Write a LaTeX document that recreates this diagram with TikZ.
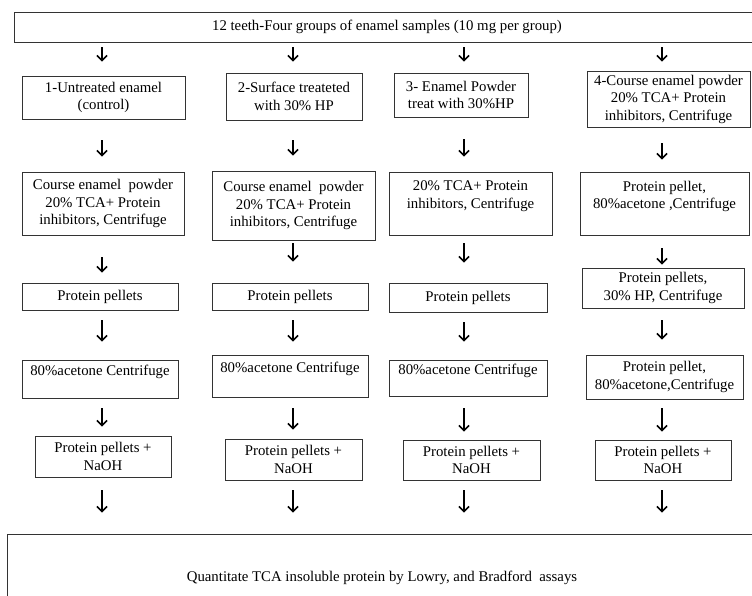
\documentclass[tikz,border=0pt]{standalone}
\usepackage{fontspec}
\setmainfont{Liberation Serif}
\usetikzlibrary{arrows.meta}

\begin{document}
\begin{tikzpicture}[x=1pt, y=-1pt,
  box/.style={draw=black!80, line width=0.9pt, align=center, inner sep=0pt,
    font=\fontsize{14.8}{17.5}\selectfont},
  flow/.style={line width=1.6pt, -{Straight Barb[length=5pt, width=10pt]}},
  gap/.style 2 args={shorten <=#1pt, shorten >=#2pt}]

  \useasboundingbox (0,0) rectangle (752,596);
  \fill[white] (0,0) rectangle (752,596);
  \clip (0,0) rectangle (752,596);

  % ====== samples ======
  \node[box, minimum width=746pt, minimum height=30pt] (top) at (387,27)
    {12 teeth-Four groups of enamel samples (10 mg per group)};

  % ====== column x of the arrows ======
  \coordinate (k1) at (102,0);
  \coordinate (k2) at (293,0);
  \coordinate (k3) at (464,0);
  \coordinate (k4) at (662,0);

  % ====== group 1 ======
  \node[box, minimum width=163pt, minimum height=43pt] (a1) at (103.5,97.5)
    {1-Untreated enamel\\(control)};
  \node[box, minimum width=162pt, minimum height=63pt] (b1) at (103,203.5)
    {Course enamel\ \ powder\\20\% TCA+ Protein\\inhibitors, Centrifuge};
  \node[box, minimum width=156pt, minimum height=27pt] (c1) at (100,296.5)
    {Protein pellets};
  \node[box, minimum width=156pt, minimum height=38pt] (d1) at (100,379)
    {80\%acetone Centrifuge\\\mbox{}};
  \node[box, minimum width=136pt, minimum height=41pt] (e1) at (103,456.5)
    {Protein pellets +\\NaOH};

  % ====== group 2 ======
  \node[box, minimum width=136pt, minimum height=47pt] (a2) at (294,96.5)
    {2-Surface treateted\\with 30\% HP};
  \node[box, minimum width=163pt, minimum height=69pt] (b2) at (293.5,205.5)
    {Course enamel\ \ powder\\20\% TCA+ Protein\\inhibitors, Centrifuge};
  \node[box, minimum width=156pt, minimum height=27pt] (c2) at (290,296.5)
    {Protein pellets};
  \node[box, minimum width=156pt, minimum height=42pt] (d2) at (290,376)
    {80\%acetone Centrifuge\\\mbox{}};
  \node[box, minimum width=137pt, minimum height=41pt] (e2) at (293.5,459.5)
    {Protein pellets +\\NaOH};

  % ====== group 3 ======
  \node[box, minimum width=134pt, minimum height=44pt] (a3) at (461,95)
    {3- Enamel Powder\\treat with 30\%HP};
  \node[box, minimum width=163pt, minimum height=63pt] (b3) at (470.5,203.5)
    {20\% TCA+ Protein\\inhibitors, Centrifuge\\\mbox{}};
  \node[box, minimum width=158pt, minimum height=29pt] (c3) at (468,297.5)
    {Protein pellets};
  \node[box, minimum width=158pt, minimum height=36pt] (d3) at (468,378)
    {80\%acetone Centrifuge\\\mbox{}};
  \node[box, minimum width=137pt, minimum height=40pt] (e3) at (471.5,460)
    {Protein pellets +\\NaOH};

  % ====== group 4 ======
  \node[box, minimum width=163pt, minimum height=56pt] (a4) at (668.5,99)
    {4-Course enamel powder\\20\% TCA+ Protein\\inhibitors, Centrifuge};
  \node[box, minimum width=169pt, minimum height=63pt] (b4) at (664.5,203.5)
    {Protein pellet,\\80\%acetone ,Centrifuge\\\mbox{}};
  \node[box, minimum width=162pt, minimum height=40pt] (c4) at (663,288)
    {Protein pellets,\\30\% HP, Centrifuge};
  \node[box, minimum width=157pt, minimum height=44pt] (d4) at (664.5,377)
    {Protein pellet,\\80\%acetone,Centrifuge};
  \node[box, minimum width=136pt, minimum height=40pt] (e4) at (663,460)
    {Protein pellets +\\NaOH};

  % ====== assays ======
  \node[box, minimum width=750pt, minimum height=88pt] (last) at (382,578)
    {Quantitate TCA insoluble protein by Lowry, and Bradford\ \ assays};

  % ====== arrows ======
  \draw[flow, gap={5}{14}] (k1 |- top.south) -- (k1 |- a1.north);
  \draw[flow, gap={5}{11}] (k2 |- top.south) -- (k2 |- a2.north);
  \draw[flow, gap={5}{11}] (k3 |- top.south) -- (k3 |- a3.north);
  \draw[flow, gap={5}{9}]  (k4 |- top.south) -- (k4 |- a4.north);

  \draw[flow, gap={21}{15}] (k1 |- a1.south) -- (k1 |- b1.north);
  \draw[flow, gap={20}{15}] (k2 |- a2.south) -- (k2 |- b2.north);
  \draw[flow, gap={22}{15}] (k3 |- a3.south) -- (k3 |- b3.north);
  \draw[flow, gap={16}{12}] (k4 |- a4.south) -- (k4 |- b4.north);

  \draw[flow, gap={22}{10}] (k1 |- b1.south) -- (k1 |- c1.north);
  \draw[flow, gap={3}{21}]  (k2 |- b2.south) -- (k2 |- c2.north);
  \draw[flow, gap={8}{20}]  (k3 |- b3.south) -- (k3 |- c3.north);
  \draw[flow, gap={13}{3}]  (k4 |- b4.south) -- (k4 |- c4.north);

  \draw[flow, gap={10}{18}] (k1 |- c1.south) -- (k1 |- d1.north);
  \draw[flow, gap={10}{13}] (k2 |- c2.south) -- (k2 |- d2.north);
  \draw[flow, gap={10}{18}] (k3 |- c3.south) -- (k3 |- d3.north);
  \draw[flow, gap={12}{15}] (k4 |- c4.south) -- (k4 |- d4.north);

  \draw[flow, gap={10}{9}]  (k1 |- d1.south) -- (k1 |- e1.north);
  \draw[flow, gap={11}{9}]  (k2 |- d2.south) -- (k2 |- e2.north);
  \draw[flow, gap={12}{8}]  (k3 |- d3.south) -- (k3 |- e3.north);
  \draw[flow, gap={9}{8}]   (k4 |- d4.south) -- (k4 |- e4.north);

  \draw[flow, gap={13}{21}] (k1 |- e1.south) -- (k1 |- last.north);
  \draw[flow, gap={10}{21}] (k2 |- e2.south) -- (k2 |- last.north);
  \draw[flow, gap={10}{21}] (k3 |- e3.south) -- (k3 |- last.north);
  \draw[flow, gap={10}{21}] (k4 |- e4.south) -- (k4 |- last.north);

\end{tikzpicture}
\end{document}
